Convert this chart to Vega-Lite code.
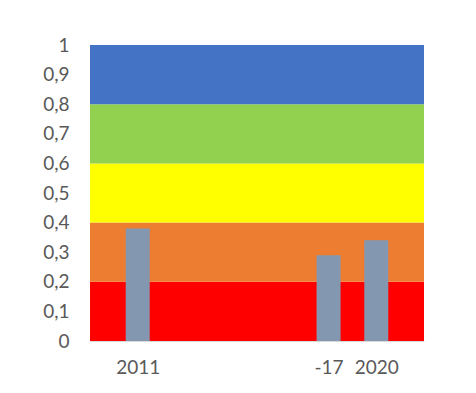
{
  "$schema": "https://vega.github.io/schema/vega-lite/v6.json",
  "autosize": {"type": "none"},
  "width": 334,
  "height": 296,
  "padding": {"left": 90, "top": 45, "right": 52, "bottom": 52},
  "background": "#ffffff",
  "config": {
    "view": {"stroke": null},
    "font": "Lato",
    "axis": {
      "labelFont": "Lato",
      "labelFontSize": 19,
      "labelColor": "#595959",
      "grid": false,
      "ticks": false,
      "title": null
    },
    "axisY": {
      "values": [0, 0.1, 0.2, 0.3, 0.4, 0.5, 0.6, 0.7, 0.8, 0.9, 1],
      "format": "~g",
      "labelExpr": "replace(datum.label, '.', ',')",
      "labelOverlap": false,
      "labelFlush": false,
      "domain": false,
      "labelPadding": 21
    }
  },
  "datasets": {
    "bands": [
      {"level": "low", "from": 0, "to": 0.2, "color": "#FF0000"},
      {"level": "fair", "from": 0.2, "to": 0.4, "color": "#ED7D31"},
      {"level": "moderate", "from": 0.4, "to": 0.6, "color": "#FFFF00"},
      {"level": "good", "from": 0.6, "to": 0.8, "color": "#92D050"},
      {"level": "high", "from": 0.8, "to": 1, "color": "#4472C4"}
    ],
    "scores": [
      {"period": "2011", "value": 0.38},
      {"period": "-17", "value": 0.29},
      {"period": "2020", "value": 0.34}
    ]
  },
  "layer": [
    {
      "data": {"name": "bands"},
      "mark": {"type": "rect"},
      "encoding": {
        "y": {
          "field": "from",
          "type": "quantitative",
          "scale": {"domain": [0, 1], "nice": false}
        },
        "y2": {"field": "to"},
        "color": {"field": "color", "type": "nominal", "scale": null}
      }
    },
    {
      "data": {"name": "scores"},
      "mark": {"type": "bar", "width": 24, "color": "#8497B0"},
      "encoding": {
        "x": {
          "field": "period",
          "type": "ordinal",
          "sort": null,
          "scale": {
            "type": "point",
            "padding": 0,
            "domain": ["2010", "2011", "2012", "2013", "2014", "-17", "2020", "2021"]
          },
          "axis": {
            "labelAngle": 0,
            "labelExpr": "indexof(['2011', '-17', '2020'], datum.label) >= 0 ? datum.label : ''",
            "domainColor": "#D9D9D9",
            "domainWidth": 1,
            "labelPadding": 17
          }
        },
        "y": {"field": "value", "type": "quantitative"}
      }
    }
  ]
}
